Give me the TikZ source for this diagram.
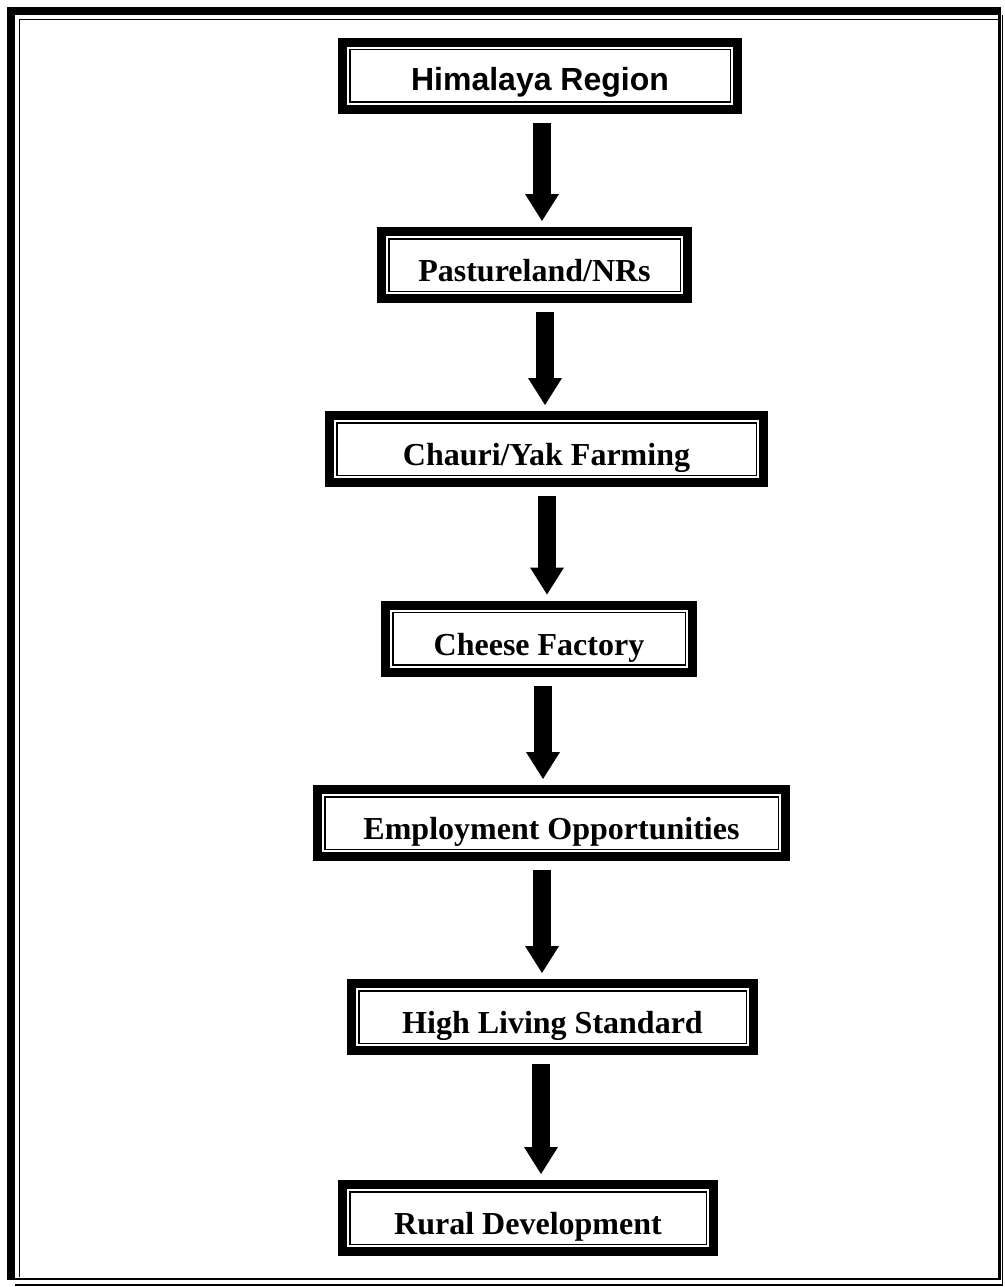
\documentclass[tikz,border=0pt]{standalone}
\usepackage{fontspec}
\setmainfont{Liberation Serif}
\newfontfamily\headfont{Liberation Sans}
\usetikzlibrary{arrows.meta}

\tikzset{
  flowbox/.style={draw, line width=1.5pt, rectangle, inner sep=0pt, outer sep=11.75pt,
    text height=42.75pt, text depth=9.75pt,
    font=\fontsize{32pt}{38pt}\selectfont\bfseries},
  flowarrow/.style={line width=18pt,
    -{Triangle[length=27pt,width=34pt,line width=0pt]},
    shorten <=9pt, shorten >=6pt},
}

\begin{document}
\begin{tikzpicture}[x=1pt,y=-1pt]
\useasboundingbox (0,0) rectangle (1004,1287);

% frame
\draw[line width=8pt] (11,1280) -- (11,11) -- (1000.7,11);
\draw[line width=1.5pt] (19.5,1277) -- (19.5,19.5) -- (998,19.5);
\draw[line width=2.5pt] (7,1278.9) -- (999.4,1278.9) -- (999.4,7);
\draw[line width=1.2pt] (15,1285) -- (1002.6,1285) -- (1002.6,15);

% nodes
\node[flowbox, minimum width=380.5pt, text height=41.25pt, text depth=11.25pt,
      font=\headfont\fontsize{32pt}{38pt}\selectfont\bfseries] (himalaya) at (540,76) {Himalaya Region};
\node[flowbox, minimum width=291.5pt] (pasture) at (534.5,265) {Pastureland/NRs};
\node[flowbox, minimum width=419.5pt] (chauri) at (546.5,449) {Chauri/Yak Farming};
\node[flowbox, minimum width=292.5pt] (cheese) at (539,638.5) {Cheese Factory};
\node[flowbox, minimum width=453.5pt] (employ) at (551.5,823) {Employment Opportunities};
\node[flowbox, minimum width=387.5pt] (living) at (552.5,1017) {High Living Standard};
\node[flowbox, minimum width=356.5pt] (rural) at (528,1218) {Rural Development};

% thick outer lines
\foreach \n in {himalaya,pasture,chauri,cheese,employ,living,rural}
  \draw[line width=9pt] ([shift={(4.5pt,-4.5pt)}]\n.north west) rectangle ([shift={(-4.5pt,4.5pt)}]\n.south east);

% arrows
\foreach \a/\b/\x in {himalaya/pasture/542, pasture/chauri/545, chauri/cheese/547,
                      cheese/employ/543, employ/living/542, living/rural/541}
  \draw[flowarrow] (\x,0 |- \a.south) -- (\x,0 |- \b.north);
\end{tikzpicture}
\end{document}
